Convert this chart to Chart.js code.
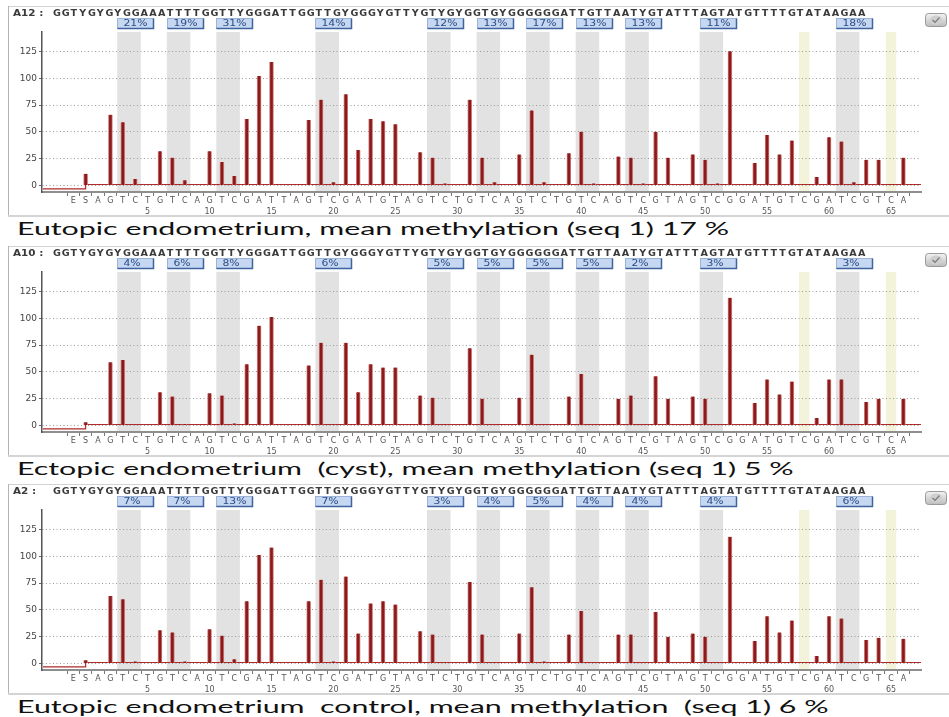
<!DOCTYPE html>
<html>
<head>
<meta charset="utf-8">
<script src="https://cdn.jsdelivr.net/npm/chart.js@4.4.1/dist/chart.umd.min.js"></script>
<style>
  html, body { margin: 0; padding: 0; background: #fff; }
  body { width: 949px; height: 717px; position: relative; overflow: hidden; }
  .panel { position: absolute; left: 0; width: 949px; height: 218px; }
  .caption { position: absolute; left: 17px; font: 17px Lato, sans-serif; color: #111;
             white-space: pre; line-height: 20px; transform-origin: 0 50%; }
</style>
</head>
<body>
<div class="panel" style="top:0px"><canvas id="pyro0" width="949" height="218"></canvas></div>
<div class="caption" style="top:219px">Eutopic endometrium, mean methylation (seq 1) 17 %</div>
<div class="panel" style="top:240px"><canvas id="pyro1" width="949" height="218"></canvas></div>
<div class="caption" style="top:459px">Ectopic endometrium  (cyst), mean methylation (seq 1) 5 %</div>
<div class="panel" style="top:478px"><canvas id="pyro2" width="949" height="218"></canvas></div>
<div class="caption" style="top:697px">Eutopic endometrium  control, mean methylation  (seq 1) 6 %</div>

<script>
// Dispensation order: E, S, then positions 1..66.
var dispensation = ['E', 'S',
  'A', 'G', 'T', 'C', 'T', 'G', 'T', 'C', 'A', 'G',
  'T', 'C', 'G', 'A', 'T', 'T', 'A', 'G', 'T', 'C',
  'G', 'A', 'T', 'G', 'T', 'A', 'G', 'T', 'C', 'T',
  'G', 'T', 'C', 'A', 'G', 'T', 'C', 'T', 'G', 'T',
  'C', 'A', 'G', 'T', 'C', 'G', 'T', 'A', 'G', 'T',
  'C', 'G', 'G', 'A', 'T', 'G', 'T', 'C', 'G', 'A',
  'T', 'C', 'G', 'T', 'C', 'A'];

// Peak heights, one per dispensation.
var peaksEutopic = [0, 11,
  0, 66, 59, 6, 0, 32, 26, 5, 0, 32,
  22, 9, 62, 102, 115, 0, 0, 61, 80, 3,
  85, 33, 62, 60, 57, 0, 31, 26, 2, 0,
  80, 26, 3, 0, 29, 70, 3, 0, 30, 50,
  2, 0, 27, 26, 2, 50, 26, 0, 29, 24,
  2, 125, 0, 21, 47, 29, 42, 0, 8, 45,
  41, 3, 24, 24, 0, 26];

var peaksEctopic = [0, 3,
  0, 59, 61, 1, 0, 31, 27, 1.5, 0, 30,
  28, 2, 57, 93, 101, 0, 0, 56, 77, 1,
  77, 31, 57, 54, 54, 0, 28, 26, 1, 0,
  72, 25, 0.5, 0, 26, 66, 1, 0, 27, 48,
  0.5, 0, 25, 28, 0.5, 46, 25, 0, 27, 25,
  0.5, 119, 0, 21, 43, 29, 41, 0, 7, 43,
  43, 0.5, 22, 25, 0, 25];

var peaksControl = [0, 3,
  0, 63, 60, 2, 0, 31, 29, 2, 0, 32,
  26, 4, 58, 101, 108, 0, 0, 58, 78, 2,
  81, 28, 56, 58, 55, 0, 30, 27, 1, 0,
  76, 27, 1, 0, 28, 71, 2, 0, 27, 49,
  1, 0, 27, 27, 1, 48, 25, 0, 28, 25,
  1, 118, 0, 21, 44, 29, 40, 0, 7, 44,
  42, 1, 22, 24, 0, 23];

// CpG sites (position of the T dispensation, C follows) and bisulfite controls.
var cpgSites = [3, 7, 11, 19, 28, 32, 36, 40, 44, 50, 61];
var controlSites = [58, 65];

var methEutopic = [21, 19, 31, 14, 12, 13, 17, 13, 13, 11, 18];
var methEctopic = [4, 6, 8, 6, 5, 5, 5, 5, 2, 3, 3];
var methControl = [7, 7, 13, 7, 3, 4, 5, 4, 4, 4, 6];

var wellIds = ['A12', 'A10', 'A2'];
var sequenceToAnalyze = 'GGTYGYGYGGAAATTTTGGTTYGGGATTGGTTGYGGGYGTTYGTYGYGGTGYGGGGGGATTGTTAATYGTATTTAGTATGTTTTGTATAAGAA';

var yTicks = [0, 25, 50, 75, 100, 125];
var baselineLevel = 1;
var preRunLevel = -3;

Chart.defaults.font.family = '"DejaVu Sans", sans-serif';

function stretchText(ctx, text, x, y, sx) {
  ctx.save();
  ctx.translate(x, y);
  ctx.scale(sx, 1);
  ctx.fillText(text, 0, 0);
  ctx.restore();
}

var pyroDecor = {
  id: 'pyroDecor',

  // Frame and shaded columns, under the grid.
  beforeDraw: function (chart) {
    var ctx = chart.ctx, xs = chart.scales.x, area = chart.chartArea;
    ctx.save();
    ctx.strokeStyle = '#d2d2d2';
    ctx.lineWidth = 1;
    ctx.beginPath(); ctx.moveTo(8, 6.5); ctx.lineTo(chart.width, 6.5); ctx.stroke();
    ctx.strokeStyle = '#b4b4b4';
    ctx.beginPath(); ctx.moveTo(8.5, 6); ctx.lineTo(8.5, 216); ctx.stroke();
    ctx.strokeStyle = '#d4d4d4';
    ctx.lineWidth = 2;
    ctx.beginPath(); ctx.moveTo(8, 216); ctx.lineTo(chart.width, 216); ctx.stroke();

    ctx.fillStyle = '#e2e2e2';
    cpgSites.forEach(function (p) {
      var l = xs.getPixelForValue(p + 1 - 0.45);
      var r = xs.getPixelForValue(p + 2 + 0.45);
      ctx.fillRect(l, area.top, r - l, area.bottom - area.top);
    });
    ctx.fillStyle = '#f3f2da';
    controlSites.forEach(function (p) {
      var l = xs.getPixelForValue(p + 1 - 0.42);
      var r = xs.getPixelForValue(p + 1 + 0.42);
      ctx.fillRect(l, area.top, r - l, area.bottom - area.top);
    });
    ctx.restore();
  },

  // Baseline of the trace.
  beforeDatasetsDraw: function (chart) {
    var ctx = chart.ctx, xs = chart.scales.x, ys = chart.scales.y, area = chart.chartArea;
    var yPre = ys.getPixelForValue(preRunLevel);
    var yBase = ys.getPixelForValue(baselineLevel);
    var xStart = xs.getPixelForValue(1);
    ctx.save();
    ctx.strokeStyle = '#b02a2a';
    ctx.lineWidth = 1.2;
    ctx.beginPath();
    ctx.moveTo(area.left + 1, yPre);
    ctx.lineTo(xStart, yPre);
    ctx.lineTo(xStart, yBase);
    ctx.lineTo(area.right, yBase);
    ctx.stroke();
    ctx.restore();
  },

  // Header sequence, methylation boxes and the small button.
  afterDraw: function (chart, args, opts) {
    var ctx = chart.ctx, xs = chart.scales.x;
    ctx.save();
    ctx.font = 'bold 8px "DejaVu Sans"';
    ctx.textBaseline = 'middle';
    ctx.fillStyle = '#3a3a3a';
    stretchText(ctx, opts.well + ' :', 13, 14, 1.3);
    for (var k = 0; k < sequenceToAnalyze.length; k++) {
      stretchText(ctx, sequenceToAnalyze[k], 53 + k * 8.75, 14, 1.2);
    }

    ctx.font = '8px "DejaVu Sans"';
    opts.meth.forEach(function (m, k) {
      var l = Math.round(xs.getPixelForValue(cpgSites[k] + 1 - 0.45)) + 0.5;
      ctx.fillStyle = '#c6d7f1';
      ctx.fillRect(l, 18.5, 36, 10);
      ctx.strokeStyle = '#9db4da';
      ctx.lineWidth = 1;
      ctx.strokeRect(l, 18.5, 36, 10);
      ctx.strokeStyle = '#3f63a0';
      ctx.lineWidth = 1.5;
      ctx.beginPath(); ctx.moveTo(l + 36, 18.5); ctx.lineTo(l + 36, 28.5); ctx.lineTo(l, 28.5); ctx.stroke();
      ctx.fillStyle = '#2b4c86';
      stretchText(ctx, m + '%', l + 6, 23.8, 1.35);
    });

    // button
    var bx = 925.5, by = 13.5, bw = 21, bh = 13;
    var g = ctx.createLinearGradient(0, by, 0, by + bh);
    g.addColorStop(0, '#f2f2f2');
    g.addColorStop(1, '#bdbdbd');
    ctx.fillStyle = g;
    ctx.strokeStyle = '#9a9a9a';
    ctx.lineWidth = 1;
    ctx.beginPath();
    ctx.roundRect(bx, by, bw, bh, 3);
    ctx.fill();
    ctx.stroke();
    ctx.fillStyle = '#cfcfcf';
    ctx.beginPath();
    ctx.ellipse(bx + bw / 2, by + bh / 2, 6, 4.5, 0, 0, Math.PI * 2);
    ctx.fill();
    ctx.strokeStyle = '#7a7a7a';
    ctx.lineWidth = 1.2;
    ctx.beginPath();
    ctx.moveTo(bx + 7, by + 6.5); ctx.lineTo(bx + 9.5, by + 9); ctx.lineTo(bx + 14, by + 4);
    ctx.stroke();
    ctx.restore();
  }
};

Chart.register(pyroDecor);

function buildPyrogram(id, peaks, meth, well) {
  var points = peaks.map(function (v, i) { return {x: i, y: v}; });
  return new Chart(document.getElementById(id), {
    type: 'bar',
    data: {
      datasets: [{
        data: points,
        backgroundColor: '#8c1a1a',
        borderColor: 'rgba(205, 120, 120, 0.95)',
        borderWidth: {left: 1, right: 1, top: 0, bottom: 0},
        borderSkipped: false,
        barThickness: 4
      }]
    },
    options: {
      responsive: false,
      animation: false,
      events: [],
      layout: {padding: {top: 32, right: 28, left: 0, bottom: 0}},
      plugins: {
        legend: {display: false},
        tooltip: {enabled: false},
        pyroDecor: {well: well, meth: meth}
      },
      scales: {
        x: {
          type: 'linear',
          min: -2,
          max: 67.9,
          afterBuildTicks: function (axis) {
            axis.ticks = dispensation.map(function (d, i) { return {value: i}; });
          },
          afterFit: function (axis) { axis.height = 26; },
          ticks: {
            autoSkip: false,
            maxRotation: 0,
            minRotation: 0,
            padding: 0,
            color: '#555',
            font: {size: 8, lineHeight: 1.3},
            callback: function (v) {
              var p = v - 1;
              return [dispensation[v], (v >= 2 && p % 5 === 0) ? String(p) : ''];
            }
          },
          grid: {drawOnChartArea: false, tickLength: 4, color: '#777'},
          border: {color: '#8e8e8e', width: 2}
        },
        y: {
          min: -6,
          max: 143,
          afterBuildTicks: function (axis) {
            axis.ticks = yTicks.map(function (v) { return {value: v}; });
          },
          afterFit: function (axis) { axis.width = 42; },
          ticks: {color: '#444', padding: 2, font: {size: 9}},
          grid: {color: '#9a9a9a', lineWidth: 1, tickLength: 3, tickColor: '#666'},
          border: {color: '#555', width: 1.5, dash: [1, 2.5]}
        }
      }
    }
  });
}

buildPyrogram('pyro0', peaksEutopic, methEutopic, wellIds[0]);
buildPyrogram('pyro1', peaksEctopic, methEctopic, wellIds[1]);
buildPyrogram('pyro2', peaksControl, methControl, wellIds[2]);

// Captions are drawn wide, like the source screenshot.
var captions = document.querySelectorAll('.caption');
var sx = 712 / captions[0].getBoundingClientRect().width;
captions.forEach(function (el) { el.style.transform = 'scaleX(' + sx + ')'; });
</script>
</body>
</html>
